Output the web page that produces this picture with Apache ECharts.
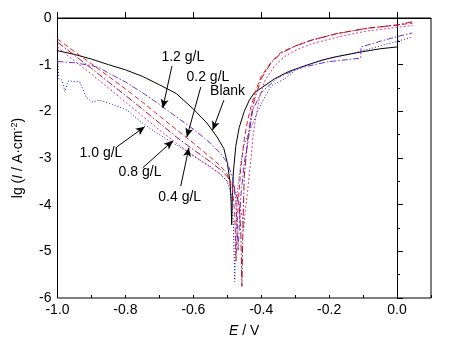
<!DOCTYPE html>
<html>
<head>
<meta charset="utf-8">
<script src="https://cdn.jsdelivr.net/npm/echarts@6/dist/echarts.min.js"></script>
<style>html,body{margin:0;padding:0;background:#fff}#c{width:456px;height:349px}</style>
</head>
<body>
<div id="c"></div>
<script>
// ---- data (E / V, lg I) ----
const blankE  = [-1.0,-0.95,-0.9,-0.85,-0.8,-0.75,-0.7,-0.65,-0.6,-0.56,-0.53,-0.51,-0.5,-0.492,-0.489,-0.487,-0.485,-0.482,-0.475,-0.465,-0.45,-0.435,-0.42,-0.4,-0.36,-0.32,-0.27,-0.22,-0.18,-0.1,-0.05,0.0];
const blankLg = [-0.7,-0.78,-0.88,-1.0,-1.11,-1.25,-1.43,-1.62,-1.95,-2.25,-2.55,-2.8,-3.1,-3.5,-3.9,-4.43,-3.8,-3.3,-2.75,-2.35,-2.0,-1.76,-1.6,-1.5,-1.3,-1.15,-1.02,-0.9,-0.83,-0.72,-0.66,-0.62];

const c02E  = [-1.0,-0.95,-0.9,-0.85,-0.8,-0.75,-0.7,-0.65,-0.6,-0.55,-0.52,-0.5,-0.485,-0.478,-0.474,-0.468,-0.46,-0.45,-0.44,-0.43,-0.416,-0.4,-0.372,-0.343,-0.3,-0.254,-0.175,-0.087,0.0,0.046];
const c02Lg = [-0.45,-0.72,-0.98,-1.25,-1.52,-1.8,-2.1,-2.39,-2.68,-2.98,-3.17,-3.35,-3.65,-4.2,-5.2,-4.0,-3.2,-2.6,-2.2,-1.9,-1.55,-1.25,-0.96,-0.74,-0.6,-0.48,-0.33,-0.22,-0.15,-0.11];

const c04E  = [-1.0,-0.95,-0.9,-0.85,-0.8,-0.75,-0.7,-0.65,-0.6,-0.55,-0.52,-0.5,-0.48,-0.465,-0.455,-0.452,-0.448,-0.44,-0.43,-0.425,-0.42,-0.405,-0.39,-0.36,-0.33,-0.29,-0.25,-0.17,-0.09,0.046];
const c04Lg = [-0.62,-0.92,-1.2,-1.5,-1.8,-2.1,-2.4,-2.68,-2.95,-3.2,-3.35,-3.5,-3.7,-3.95,-4.3,-4.55,-4.2,-3.7,-3.0,-2.6,-2.3,-1.7,-1.35,-1.02,-0.82,-0.66,-0.55,-0.4,-0.28,-0.16];

const c08E  = [-1.0,-0.95,-0.9,-0.85,-0.8,-0.75,-0.7,-0.65,-0.6,-0.55,-0.52,-0.5,-0.48,-0.465,-0.46,-0.457,-0.453,-0.45,-0.44,-0.43,-0.42,-0.4,-0.37,-0.34,-0.3,-0.25,-0.18,-0.09,0.0,0.046];
const c08Lg = [-0.52,-0.8,-1.08,-1.37,-1.66,-1.95,-2.25,-2.55,-2.82,-3.08,-3.25,-3.4,-3.6,-4.0,-4.6,-5.75,-4.2,-3.4,-2.6,-2.1,-1.75,-1.3,-0.95,-0.75,-0.6,-0.47,-0.34,-0.22,-0.15,-0.08];

const c10E  = [-1.0,-0.996,-0.987,-0.978,-0.969,-0.934,-0.916,-0.899,-0.875,-0.846,-0.796,-0.75,-0.7,-0.65,-0.6,-0.55,-0.52,-0.5,-0.488,-0.482,-0.478,-0.474,-0.47,-0.46,-0.45,-0.43,-0.41,-0.39,-0.37,-0.33,-0.3,-0.25,-0.2,-0.15,-0.1,-0.05,0.0,0.04];
const c10Lg = [-0.9,-1.3,-1.33,-1.58,-1.35,-1.37,-1.69,-1.8,-1.76,-1.83,-1.97,-2.25,-2.5,-2.72,-2.95,-3.18,-3.35,-3.5,-3.8,-4.4,-5.65,-4.5,-3.7,-3.1,-2.7,-2.35,-2.0,-1.7,-1.45,-1.3,-1.12,-0.97,-0.87,-0.79,-0.7,-0.6,-0.5,-0.42];

const c12E  = [-1.0,-0.95,-0.9,-0.875,-0.85,-0.8,-0.75,-0.7,-0.65,-0.6,-0.55,-0.52,-0.5,-0.485,-0.475,-0.468,-0.46,-0.45,-0.44,-0.425,-0.4,-0.352,-0.287,-0.205,-0.107,-0.106,-0.05,0.0,0.045];
const c12Lg = [-0.93,-0.96,-1.02,-1.07,-1.18,-1.37,-1.6,-1.85,-2.12,-2.38,-2.68,-2.9,-3.1,-3.4,-3.9,-4.97,-3.8,-3.1,-2.7,-1.97,-1.6,-1.28,-1.07,-0.94,-0.86,-0.62,-0.5,-0.4,-0.32];

// annotations (data coordinates)
const annoText   = ['1.2 g/L','0.2 g/L','Blank','1.0 g/L','0.8 g/L','0.4 g/L'];
const annoTextE  = [-0.631,-0.557,-0.499,-0.872,-0.757,-0.640];
const annoTextLg = [-0.835,-1.26,-1.56,-2.89,-3.30,-3.83];
const arrowFromE  = [-0.663,-0.578,-0.51,-0.825,-0.749,-0.637];
const arrowFromLg = [-1.03,-1.48,-1.76,-2.76,-3.21,-3.60];
const arrowToE    = [-0.690,-0.619,-0.543,-0.743,-0.660,-0.613];
const arrowToLg   = [-1.93,-2.55,-2.40,-2.33,-2.63,-2.78];

const xTicks = [-1.0,-0.8,-0.6,-0.4,-0.2,0.0];

function zip(a,b){return a.map((v,i)=>[v,b[i]]);}

const FONT = 'Liberation Sans, Arial, sans-serif';
const chart = echarts.init(document.getElementById('c'), null, {renderer:'canvas'});

function mk(name, E, L, color, type){
  return {name, type:'line', data:zip(E,L), showSymbol:false, symbol:'none', smooth:false,
    lineStyle:{color, width:1, type}, itemStyle:{color}, z:2, animation:false};
}

const arrows = annoText.map((t,i)=>[
  {coord:[arrowFromE[i],arrowFromLg[i]]},
  {coord:[arrowToE[i],arrowToLg[i]]}
]);

chart.setOption({
  animation:false,
  backgroundColor:'#fff',
  grid:{left:57.5,top:18,right:25,bottom:51,show:true,borderColor:'#000',borderWidth:1,backgroundColor:'transparent'},
  xAxis:[{
    type:'value', min:-1, max:0.1, interval:0.2,
    name:'{i|E} / V', nameLocation:'middle', nameGap:26,
    nameTextStyle:{fontFamily:FONT,fontSize:14,color:'#000',rich:{i:{fontStyle:'italic',fontFamily:FONT,fontSize:14,color:'#000'}}},
    axisLine:{show:true,lineStyle:{color:'#000',width:1}},
    axisTick:{show:true,inside:true,length:6,lineStyle:{color:'#000'}},
    axisLabel:{show:true,margin:5,fontFamily:FONT,fontSize:14,color:'#000',showMaxLabel:false,
      formatter:v=>{const r=Math.round(v*10)/10; return xTicks.indexOf(r)>=0 ? r.toFixed(1) : '';}},
    splitLine:{show:false}
  },{
    type:'value', min:-1, max:0.1, interval:0.1, position:'bottom', offset:0,
    axisLine:{show:false}, axisLabel:{show:false},
    axisTick:{show:true,inside:true,length:3,lineStyle:{color:'#000'}},
    splitLine:{show:false}
  }],
  yAxis:{
    type:'value', min:-6, max:0, interval:1,
    name:'{a|lg (}{i|I}{a| / A·cm}{s|-2}{a|)}', nameLocation:'middle', nameGap:32, nameRotate:90,
    nameTextStyle:{fontFamily:FONT,fontSize:14,color:'#000',
      rich:{a:{fontFamily:FONT,fontSize:14,color:'#000'},i:{fontFamily:FONT,fontSize:14,fontStyle:'italic',color:'#000'},
            s:{fontFamily:FONT,fontSize:9,color:'#000',verticalAlign:'top',padding:[0,0,6,0]}}},
    axisLine:{show:true,lineStyle:{color:'#000',width:1}},
    axisTick:{show:true,inside:true,length:6,lineStyle:{color:'#000'}},
    minorTick:{show:true,splitNumber:2,length:3,lineStyle:{color:'#000'}},
    axisLabel:{margin:6,fontFamily:FONT,fontSize:14,color:'#000',formatter:v=>String(Math.round(v))},
    splitLine:{show:false}
  },
  series:[
    mk('Blank', blankE, blankLg, '#000000', 'solid'),
    mk('0.2 g/L', c02E, c02Lg, '#ee1c24', [5,3]),
    mk('0.4 g/L', c04E, c04Lg, '#f0358a', [2,2]),
    mk('0.8 g/L', c08E, c08Lg, '#a3142e', [7,2,1.5,2]),
    mk('1.0 g/L', c10E, c10Lg, '#1c1ca8', [1,2]),
    mk('1.2 g/L', c12E, c12Lg, '#6a34d6', [6,2,1.5,2]),
    {type:'line', data:[], silent:true, animation:false,
     markLine:{silent:true, symbol:['none','arrow'], symbolSize:[6,9], animation:false,
       lineStyle:{color:'#000',width:1,type:'solid'}, label:{show:false}, data:arrows}}
  ]
});

const texts = annoText.map((t,i)=>{
  const p = chart.convertToPixel({gridIndex:0},[annoTextE[i],annoTextLg[i]]);
  return {type:'text', x:p[0], y:p[1], style:{text:t, fill:'#000', font:'14px '+FONT, align:'center', verticalAlign:'middle'}, z:10};
});
chart.setOption({graphic:texts});
</script>
</body>
</html>
